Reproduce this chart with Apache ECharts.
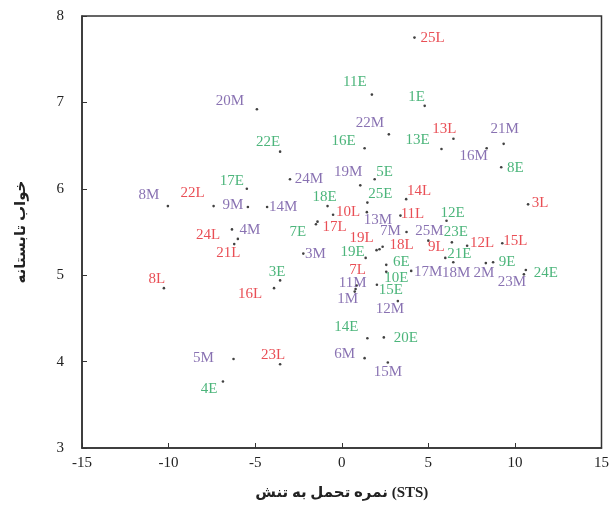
<!DOCTYPE html>
<html>
<head>
<meta charset="utf-8">
<script src="https://cdn.jsdelivr.net/npm/echarts@6/dist/echarts.min.js"></script>
<style>
  html, body { margin:0; padding:0; background:#fff; }
  #chart { width:612px; height:512px; }
</style>
</head>
<body>
<div id="chart"></div>
<script>
// E group (green)
const eIds = ['1E','3E','4E','5E','6E','7E','8E','9E','10E','11E','12E','13E','14E','15E','16E','17E','18E','19E','20E','21E','22E','23E','24E','25E'];
const eX   = [4.79,-3.56,-6.86,1.90,2.57,-1.49,9.21,8.74,2.57,1.74,6.05,5.76,1.48,2.03,1.32,-5.48,-0.82,1.38,2.43,5.98,-3.56,6.36,10.63,1.48];
const eY   = [6.96,4.94,3.77,6.11,5.12,5.59,6.25,5.15,5.04,7.09,5.63,6.46,4.27,4.89,6.47,6.00,5.80,5.20,4.28,5.20,6.43,5.38,5.06,5.84];

// M group (purple)
const mIds = ['1M','2M','3M','4M','5M','6M','7M','8M','9M','11M','12M','13M','14M','15M','16M','17M','18M','19M','20M','21M','22M','23M','24M','25M'];
const mX   = [0.75,8.32,-2.22,-6.00,-6.25,1.32,2.18,-10.04,-5.42,0.80,3.24,1.45,-4.31,2.66,8.37,4.01,6.44,1.07,-4.90,9.35,2.72,10.52,-2.99,3.74];
const mY   = [4.81,5.14,5.25,5.42,4.03,4.04,5.30,5.80,5.79,4.84,4.70,5.73,5.79,3.99,6.47,5.05,5.15,6.04,6.92,6.52,6.63,5.01,6.11,5.50];

// L group (red)
const lIds = ['3L','7L','8L','9L','10L','11L','12L','13L','14L','15L','16L','17L','18L','19L','21L','22L','23L','24L','25L'];
const lX   = [10.76,0.86,-10.27,5.00,-0.50,3.39,7.24,6.45,3.72,9.27,-3.91,-1.40,2.36,2.01,-6.21,-7.40,-3.56,-6.34,4.20];
const lY   = [5.82,4.88,4.85,5.40,5.70,5.69,5.34,6.58,5.88,5.37,4.85,5.62,5.33,5.29,5.36,5.80,3.97,5.53,7.75];

// where each label sits relative to its dot (px)
const labelNudge = {
  '1E':[-8,-9],'3E':[-3,-8],'4E':[-14,8],'5E':[10,-7],'6E':[15,-3],'7E':[-18,8],'8E':[14,1],'9E':[14,0],
  '10E':[10,6],'11E':[-17,-13],'12E':[6,-8],'13E':[-24,-9],'14E':[-21,-11],'15E':[14,5],'16E':[-21,-7],
  '17E':[-15,-8],'18E':[-3,-9],'19E':[-13,-6],'20E':[22,1],'21E':[14,-4],'22E':[-12,-10],'23E':[4,-10],
  '24E':[20,3],'25E':[13,-9],
  '1M':[-7,7],'2M':[-2,10],'3M':[12,0],'4M':[12,-9],'5M':[-30,-1],'6M':[-20,-4],'7M':[11,-18],'8M':[-19,-11],
  '9M':[-15,-2],'11M':[-3,-6],'12M':[-8,8],'13M':[11,8],'14M':[16,0],'15M':[0,10],'16M':[-13,8],'17M':[17,1],
  '18M':[3,11],'19M':[-12,-13],'20M':[-27,-8],'21M':[1,-15],'22M':[-19,-11],'23M':[-12,8],'24M':[19,0],'25M':[23,-1],
  '3L':[12,-1],'7L':[1,-16],'8L':[-7,-9],'9L':[8,6],'10L':[15,-3],'11L':[12,-2],'12L':[15,-3],'13L':[-9,-10],
  '14L':[13,-8],'15L':[13,-2],'16L':[-24,6],'17L':[17,5],'18L':[19,-2],'19L':[-15,-12],'21L':[-6,9],
  '22L':[-21,-13],'23L':[-7,-9],'24L':[-24,6],'25L':[18,0]
};

const serif = '"Liberation Serif", "DejaVu Serif", "DejaVu Sans", serif';

function makeSeries(name, ids, xs, ys, color) {
  return {
    name: name,
    type: 'scatter',
    symbol: 'circle',
    symbolSize: 2.6,
    itemStyle: { color: '#111' },
    data: ids.map((id, i) => ({
      name: id,
      value: [xs[i], ys[i]],
      label: { offset: labelNudge[id] || [0, -10] }
    })),
    label: {
      show: true,
      position: 'inside',
      formatter: p => p.name,
      color: color,
      fontFamily: serif,
      fontSize: 15
    },
    emphasis: { disabled: true }
  };
}

const chart = echarts.init(document.getElementById('chart'));
chart.setOption({
  animation: false,
  backgroundColor: '#fff',
  grid: { left: 82, right: 8, top: 16, bottom: 64, show: true, borderColor: '#333', borderWidth: 1.5 },
  xAxis: {
    type: 'value', min: -15, max: 15, interval: 5,
    name: 'نمره تحمل به تنش (STS)',
    nameLocation: 'middle', nameGap: 38,
    nameTextStyle: { fontFamily: serif, fontSize: 15, fontWeight: 'bold', color: '#222' },
    axisLine: { onZero: false, lineStyle: { color: '#333', width: 1.5 } },
    axisTick: { inside: true, length: 5, lineStyle: { color: '#333' } },
    axisLabel: { fontFamily: serif, fontSize: 15, color: '#222', margin: 8 },
    splitLine: { show: false }
  },
  yAxis: {
    type: 'value', min: 3, max: 8, interval: 1,
    name: 'خواب تابستانه',
    nameLocation: 'middle', nameGap: 53,
    nameTextStyle: { fontFamily: serif, fontSize: 15, fontWeight: 'bold', color: '#222' },
    axisLine: { onZero: false, lineStyle: { color: '#333', width: 1.5 } },
    axisTick: { inside: true, length: 5, lineStyle: { color: '#333' } },
    axisLabel: { fontFamily: serif, fontSize: 15, color: '#222', margin: 18 },
    splitLine: { show: false }
  },
  series: [
    makeSeries('E', eIds, eX, eY, '#1fa35a'),
    makeSeries('M', mIds, mX, mY, '#6c4f9f'),
    makeSeries('L', lIds, lX, lY, '#e3222b')
  ]
});
</script>
</body>
</html>
